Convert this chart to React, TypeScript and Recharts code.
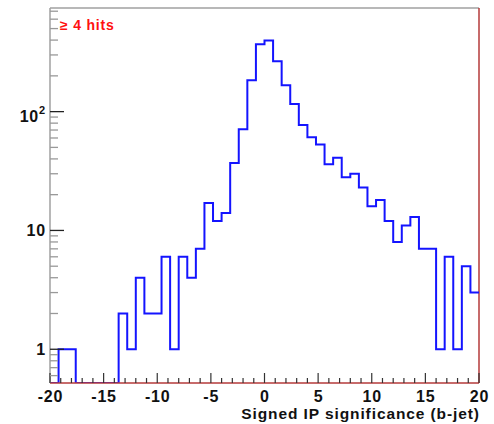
import React from 'react';
import { LineChart, Line, XAxis, YAxis, ReferenceLine, Label } from 'recharts';

// histogram: 50 bins of width 0.8 between -20 and 20
const binLow = -20;
const binWidth = 0.8;
const counts = [
  0, 1, 1, 0, 0, 0, 0, 0, 2, 1,
  4, 2, 2, 6, 1, 6, 4, 7, 17, 12,
  14, 37, 71, 184, 369, 396, 265, 167, 116, 77,
  61, 53, 36, 41, 28, 30, 23, 16, 18, 12,
  8, 11, 13, 7, 7, 1, 6, 1, 5, 3,
];

const xTicks = [
  -20, -19, -18, -17, -16, -15, -14, -13, -12, -11, -10, -9, -8, -7, -6, -5, -4, -3, -2, -1,
  0, 1, 2, 3, 4, 5, 6, 7, 8, 9, 10, 11, 12, 13, 14, 15, 16, 17, 18, 19, 20,
];
const xMajor = [-20, -15, -10, -5, 0, 5, 10, 15, 20];

const yTicks = [
  0.6, 0.7, 0.8, 0.9,
  1, 2, 3, 4, 5, 6, 7, 8, 9,
  10, 20, 30, 40, 50, 60, 70, 80, 90,
  100, 200, 300, 400, 500, 600, 700,
];
const yLabels: Record<number, string> = { 1: '1', 10: '10', 100: '10^2' };
const yMin = 0.52;
const yMax = 745;

const title = 'Signed IP significance (b-jet)';
const note = '\u2265 4 hits';

const font = '"Liberation Sans", Arial, Helvetica, sans-serif';
const frameRed = '#b53a3a';
const frameGray = '#a0a0a0';
const histBlue = '#1414ff';

// empty bins sit on the floor of the log axis, like ROOT draws them
const rows = counts.map((c, i) => ({ x: binLow + i * binWidth, y: c > 0 ? c : yMin }));
rows.push({ x: 20, y: counts[counts.length - 1] });

const XTick = (props: any) => {
  const { x, y, payload } = props;
  const v = payload.value;
  const major = xMajor.includes(v);
  return (
    <g>
      <line x1={x} x2={x} y1={y} y2={y - (major ? 10 : 5)} stroke="#333" strokeWidth={1.2} />
      {major && (
        <text
          x={x + 0.4}
          y={y + 18.7}
          textAnchor="middle"
          fontFamily={font}
          fontWeight="bold"
          fontSize={16}
          letterSpacing={0.8}
          fill="#111"
        >
          {v}
        </text>
      )}
    </g>
  );
};

const YTick = (props: any) => {
  const { x, y, payload } = props;
  const label = yLabels[payload.value];
  const major = label !== undefined;
  return (
    <g>
      <line
        x1={x}
        x2={x + (major ? 14 : 8)}
        y1={y}
        y2={y}
        stroke={major ? '#222' : '#999'}
        strokeWidth={1.3}
      />
      {major && label === '10^2' && (
        <text
          x={46}
          y={y + 10}
          textAnchor="end"
          fontFamily={font}
          fontWeight="bold"
          fontSize={16}
          letterSpacing={0.8}
          fill="#111"
        >
          10
          <tspan dy={-7.4} fontSize={11}>2</tspan>
        </text>
      )}
      {major && label !== '10^2' && (
        <text
          x={46}
          y={y + 5.7}
          textAnchor="end"
          fontFamily={font}
          fontWeight="bold"
          fontSize={16}
          letterSpacing={0.8}
          fill="#111"
        >
          {label}
        </text>
      )}
    </g>
  );
};

export default function App() {
  return (
    <div style={{ position: 'absolute', left: 0, top: 0, width: 494, height: 424, background: '#fff' }}>
      <LineChart width={494} height={424} data={rows} margin={{ top: 8, right: 15, bottom: 0, left: 0 }}>
        <XAxis
          dataKey="x"
          type="number"
          domain={[-20, 20]}
          ticks={xTicks}
          interval={0}
          allowDataOverflow
          height={41}
          tickSize={0}
          tickMargin={0}
          tickLine={false}
          axisLine={{ stroke: frameRed, strokeWidth: 1.5 }}
          tick={XTick}
        >
          <Label
            content={(p: any) => {
              const vb = p.viewBox;
              return (
                <text
                  x={vb.x + vb.width + 0.9}
                  y={vb.y + 36}
                  textAnchor="end"
                  fontFamily={font}
                  fontWeight="bold"
                  fontSize={15.5}
                  letterSpacing={0.9}
                  fill="#111"
                >
                  {title}
                </text>
              );
            }}
          />
        </XAxis>
        <YAxis
          scale="log"
          domain={[yMin, yMax]}
          ticks={yTicks}
          interval={0}
          allowDataOverflow
          width={50}
          tickSize={0}
          tickMargin={0}
          tickLine={false}
          axisLine={{ stroke: frameGray, strokeWidth: 1.5 }}
          tick={YTick}
        >
          <Label
            content={(p: any) => {
              const vb = p.viewBox;
              return (
                <text
                  x={vb.x + vb.width + 10}
                  y={vb.y + 22}
                  fontFamily={font}
                  fontWeight="bold"
                  fontSize={14}
                  letterSpacing={0.8}
                  fill="#ff1010"
                >
                  {note}
                </text>
              );
            }}
          />
        </YAxis>
        <ReferenceLine y={yMax} stroke={frameGray} strokeWidth={1.5} />
        <ReferenceLine x={20} stroke={frameRed} strokeWidth={1.5} />
        <Line
          dataKey="y"
          type="stepAfter"
          stroke={histBlue}
          strokeWidth={2}
          dot={false}
          activeDot={false}
          isAnimationActive={false}
        />
      </LineChart>
    </div>
  );
}
